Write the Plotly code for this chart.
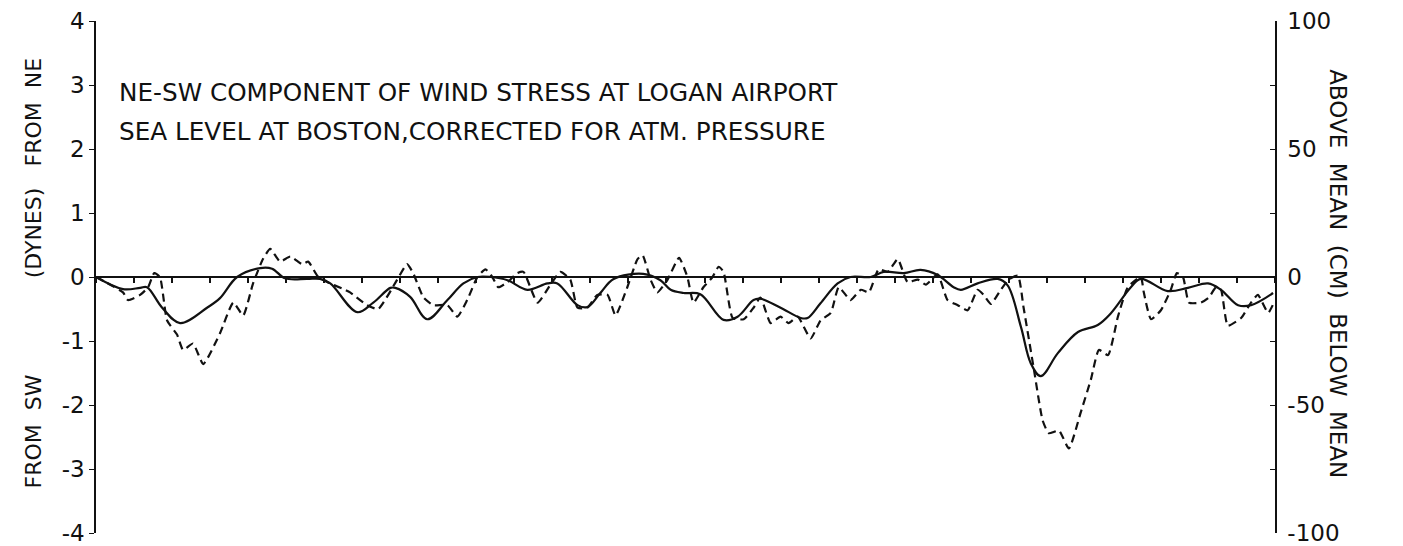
import plotly.graph_objects as go

# Days of the month (x) and NE-SW wind stress at Logan Airport (dynes)
stress_day = [0, 0.71, 1.16, 1.34, 1.74, 2.21, 2.92, 3.26, 3.71, 4.32, 4.63, 4.97,
              5.55, 5.89, 6.16, 6.87, 7.29, 7.74, 7.87, 8.26, 8.71, 9.24, 9.66,
              10.03, 10.37, 10.82, 11.34, 11.87, 12.13, 12.66, 12.92, 13.26, 13.61,
              14.39, 14.84, 15.11, 15.45, 15.89, 16.5, 16.87, 17.29, 17.47, 18.0,
              18.53, 18.71, 19.05, 19.5, 19.84, 20.37, 20.71, 21.24, 21.68, 22.13,
              22.55, 22.74, 23.18, 23.71, 23.97, 24.32, 24.58, 24.84, 25.29, 25.82,
              26.34, 26.68, 27.21, 27.47, 28.18, 28.71, 29.24, 29.58, 30.03, 30.37,
              30.95]
stress = [0, -0.19, -0.17, -0.16, -0.48, -0.72, -0.48, -0.33, 0.0, 0.14, 0.13, -0.02,
          -0.03, -0.03, -0.10, -0.55, -0.40, -0.17, -0.17, -0.31, -0.66, -0.36, -0.10,
          0.0, 0.0, -0.05, -0.20, -0.10, -0.10, -0.44, -0.47, -0.25, -0.03,
          0.05, -0.05, -0.20, -0.25, -0.27, -0.67, -0.62, -0.36, -0.34, -0.48,
          -0.64, -0.64, -0.41, -0.10, 0.0, 0.0, 0.08, 0.06, 0.11, 0.03,
          -0.16, -0.20, -0.10, -0.03, -0.13, -0.78, -1.35, -1.55, -1.19, -0.86,
          -0.75, -0.57, -0.16, -0.03, -0.22, -0.17, -0.10, -0.20, -0.44, -0.44,
          -0.25]

# Sea level at Boston corrected for atmospheric pressure (cm from mean)
level_day = [0, 0.71, 0.84, 1.16, 1.37, 1.53, 1.68, 1.87, 2.13, 2.29, 2.55, 2.82,
             3.26, 3.61, 3.87, 4.13, 4.39, 4.58, 4.84, 5.11, 5.42, 5.58, 5.82,
             6.08, 6.47, 6.68, 7.13, 7.42, 7.92, 8.18, 8.34, 8.61, 8.87, 9.24,
             9.5, 9.76, 10.03, 10.24, 10.42, 10.58, 10.82, 11.08, 11.24, 11.61,
             11.95, 12.21, 12.47, 12.66, 12.92, 13.18, 13.45, 13.66, 13.97, 14.24,
             14.37, 14.58, 14.76, 15.03, 15.33, 15.55, 15.71, 15.97, 16.21, 16.37,
             16.5, 16.74, 17.03, 17.29, 17.47, 17.74, 18.0, 18.21, 18.45, 18.79,
             19.05, 19.32, 19.53, 19.84, 20.11, 20.32, 20.58, 20.82, 21.08, 21.34,
             21.61, 21.82, 22.13, 22.39, 22.66, 22.92, 23.18, 23.34, 23.53, 23.79,
             24.0, 24.24, 24.39, 24.66, 24.89, 25.05, 25.32, 25.58, 25.89, 26.16,
             26.37, 26.61, 26.87, 27.13, 27.47, 27.55, 27.74, 28.0, 28.26, 28.42,
             28.58, 28.74, 29.05, 29.26, 29.45, 29.58, 29.76, 30.11, 30.37, 30.55,
             30.82, 30.97]
level = [0, -6, -9, -7, -4, 1.5, 0, -17, -22.5, -28.5, -26, -34,
         -22, -10, -15, -2.5, 7, 11, 6, 8, 5, 6, 0.5,
         -2, -4.5, -6, -11, -12.5, -1, 5, 1.5, -8, -11, -11,
         -15.5, -9, 0, 3, 0, -4, -2, 1.5, 2, -10,
         -3, 2, -1, -12, -12, -7, -7, -15, -4, 7,
         8.5, -1, -6, -1, 7.5, 0, -10, -4, 0, 4,
         2, -16, -16.5, -12, -8, -18, -15.5, -18, -15.5, -24,
         -17, -14, -4, -9, -5, -6, 3, 2, 7, -2,
         -1, -3, 1, -9, -11, -13, -5, -7, -10.5, -5,
         -1, 0.5, -12, -36, -56, -61, -60, -67, -53, -40,
         -28.5, -30.5, -15.5, -4, 0, -6, -16.5, -13, -5, 1.5,
         0, -10, -10, -8, -4, -5, -19, -16, -10, -7,
         -14, -10]

left_ticks = [-4, -3, -2, -1, 0, 1, 2, 3, 4]
left_labels = ["-4", "-3", "-2", "-1", "0", "1", "2", "3", "4"]
right_ticks = [-100, -75, -50, -25, 0, 25, 50, 75, 100]
right_labels = ["-100", "", "-50", "", "0", "", "50", "", "100"]

FONT = "DejaVu Sans"
INK = "#111111"

fig = go.Figure()
fig.add_trace(go.Scatter(
    x=stress_day, y=stress, mode="lines", name="Wind stress",
    line=dict(color=INK, width=2.2, shape="spline", smoothing=1.0),
))
fig.add_trace(go.Scatter(
    x=level_day, y=level, mode="lines", name="Sea level", yaxis="y2",
    line=dict(color=INK, width=2.2, dash="8px,5px", shape="spline", smoothing=0.5),
))

fig.update_layout(
    width=1403, height=546,
    margin=dict(l=96, r=128, t=21, b=13),
    paper_bgcolor="white", plot_bgcolor="white",
    showlegend=False,
    font=dict(family=FONT, color=INK),
    xaxis=dict(
        range=[0, 31], anchor="free", position=0.5, automargin=False,
        showline=True, linecolor=INK, linewidth=2,
        ticks="outside", ticklen=5, tickwidth=1.5, tickcolor=INK, dtick=1, tick0=0,
        showticklabels=False, showgrid=False, zeroline=False,
    ),
    yaxis=dict(
        range=[-4, 4], tickvals=left_ticks, ticktext=left_labels, automargin=False,
        ticklabeloverflow="allow",
        showline=True, linecolor=INK, linewidth=1.5,
        ticks="outside", ticklen=5, tickcolor=INK,
        tickfont=dict(size=23, family=FONT, color=INK),
        showgrid=False, zeroline=False,
    ),
    yaxis2=dict(
        range=[-100, 100], overlaying="y", side="right", automargin=False,
        ticklabeloverflow="allow",
        tickvals=right_ticks, ticktext=right_labels,
        showline=True, linecolor=INK, linewidth=1.5,
        ticks="inside", ticklen=5, tickcolor=INK, ticklabelstandoff=6,
        tickfont=dict(size=23, family=FONT, color=INK),
        showgrid=False, zeroline=False,
    ),
)

# Key text inside the frame
fig.add_annotation(xref="paper", yref="y", x=0.018, y=2.89, xanchor="left", yanchor="middle",
                   text="NE-SW COMPONENT OF WIND STRESS AT LOGAN AIRPORT",
                   showarrow=False, font=dict(size=24.7, family=FONT, color=INK))
fig.add_annotation(xref="paper", yref="y", x=0.018, y=2.27, xanchor="left", yanchor="middle",
                   text="SEA LEVEL AT BOSTON,CORRECTED FOR ATM. PRESSURE",
                   showarrow=False, font=dict(size=24.7, family=FONT, color=INK))

# Left axis title in three parts
for label, yv in [("FROM  NE", 2.58), ("(DYNES)", 0.69), ("FROM  SW", -2.42)]:
    fig.add_annotation(xref="paper", yref="y", x=-0.053, y=yv, xanchor="center", yanchor="middle",
                       text=label, textangle=-90, showarrow=False,
                       font=dict(size=22, family=FONT, color=INK))

# Right axis title
fig.add_annotation(xref="paper", yref="y", x=1.054, y=0.05, xanchor="center", yanchor="middle",
                   text="ABOVE  MEAN  (CM)  BELOW  MEAN", textangle=90, showarrow=False,
                   font=dict(size=23, family=FONT, color=INK))

fig.write_html("out.html")
